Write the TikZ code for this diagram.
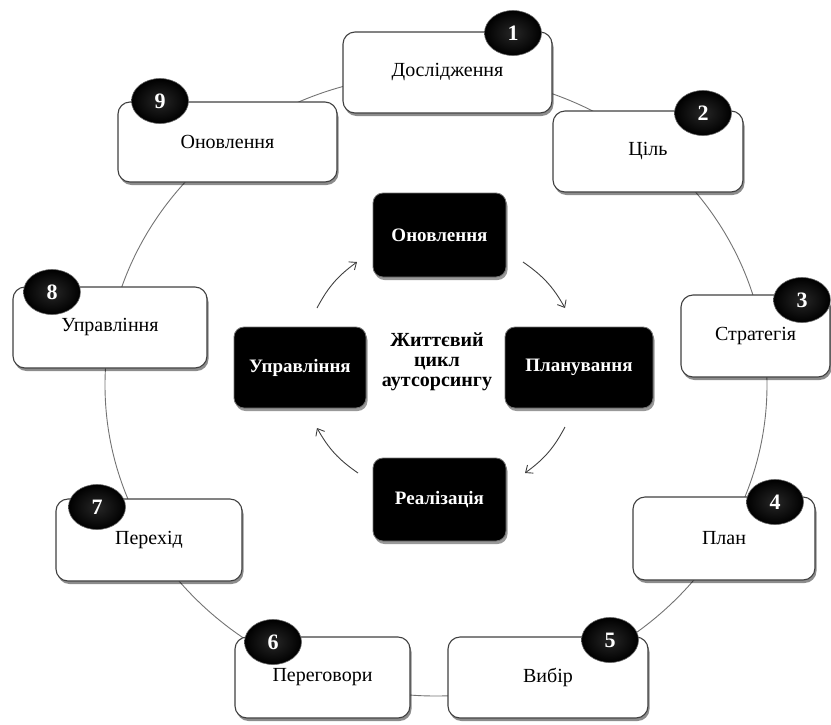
\documentclass[tikz,border=0pt]{standalone}
\usepackage{fontspec}
\setmainfont{Liberation Serif}
\usetikzlibrary{shadows,arrows.meta,shapes.geometric}
\begin{document}
\begin{tikzpicture}[x=1pt,y=1pt,
  ring/.style={draw=black!55, line width=0.9pt},
  obox/.style={draw=black!75, line width=1.1pt, fill=white, rounded corners=12pt,
    inner sep=0pt, font=\fontsize{20}{23}\selectfont,
    drop shadow={shadow xshift=1.5pt, shadow yshift=-3pt, opacity=0.45, fill=black}},
  ibox/.style={draw=black!55, line width=0.8pt, fill=black, rounded corners=10pt,
    inner sep=0pt, text=white, font=\bfseries\fontsize{19}{22}\selectfont,
    drop shadow={shadow xshift=1.5pt, shadow yshift=-3pt, opacity=0.4, fill=black}},
  badge/.style={ellipse, draw=black!60, line width=0.6pt, inner sep=0pt,
    minimum width=57pt, minimum height=45pt, inner color=black!85, outer color=black,
    text=white, font=\bfseries\fontsize{22}{24}\selectfont},
  cyc/.style={draw=black!75, line width=0.9pt, -{Straight Barb[length=6pt,width=10pt]}}
]
\useasboundingbox (0,0) rectangle (831,-724);
% ring
\coordinate (ctr) at (436,-385);
\draw[ring] (ctr) ellipse [x radius=331pt, y radius=311pt];
% outer boxes
\node[obox, minimum width=209pt, minimum height=81pt] (b1) at (447.5,-72.5) {Дослідження};
\node[obox, minimum width=190pt, minimum height=81pt] (b2) at (648,-151.5) {Ціль};
\node[obox, minimum width=149pt, minimum height=82pt] (b3) at (755.5,-336) {Стратегія};
\node[obox, minimum width=182pt, minimum height=83pt] (b4) at (724,-538.5) {План};
\node[obox, minimum width=200pt, minimum height=81pt] (b5) at (548,-677.5) {Вибір};
\node[obox, minimum width=175pt, minimum height=81pt] (b6) at (322.5,-677.5) {Переговори};
\node[obox, minimum width=186pt, minimum height=82pt] (b7) at (149,-540) {Перехід};
\node[obox, minimum width=194pt, minimum height=81pt] (b8) at (110,-327.5) {Управління};
\node[obox, minimum width=219pt, minimum height=80pt] (b9) at (227.5,-142) {Оновлення};
% badges
\node[badge] (n1) at (513,-33) {1};
\node[badge] (n2) at (703,-113) {2};
\node[badge] (n3) at (802,-300) {3};
\node[badge] (n4) at (775,-502) {4};
\node[badge] (n5) at (610,-640) {5};
\node[badge] (n6) at (273,-642) {6};
\node[badge] (n7) at (97,-507) {7};
\node[badge] (n8) at (52,-292) {8};
\node[badge] (n9) at (160,-101) {9};
% inner cycle
\node[ibox, minimum width=133pt, minimum height=84pt] (c1) at (439.5,-235) {Оновлення};
\node[ibox, minimum width=148pt, minimum height=81pt] (c2) at (579,-367.5) {Планування};
\node[ibox, minimum width=133pt, minimum height=83pt] (c3) at (439.5,-499.5) {Реалізація};
\node[ibox, minimum width=132pt, minimum height=81pt] (c4) at (300,-367.5) {Управління};
\node[align=center, inner sep=0pt, font=\bfseries\fontsize{20}{20}\selectfont] (title) at (437,-362)
  {Життєвий\\цикл\\аутсорсингу};
% arrows
\coordinate (a1s) at (317,-308); \coordinate (a1e) at (357,-262);
\coordinate (a2s) at (523,-262); \coordinate (a2e) at (565,-308);
\coordinate (a3s) at (565,-427); \coordinate (a3e) at (525,-473);
\coordinate (a4s) at (358,-473); \coordinate (a4e) at (317,-428);
\draw[cyc] (a1s) to[bend left=13] (a1e);
\draw[cyc] (a2s) to[bend left=13] (a2e);
\draw[cyc] (a3s) to[bend left=13] (a3e);
\draw[cyc] (a4s) to[bend left=13] (a4e);
\end{tikzpicture}
\end{document}
